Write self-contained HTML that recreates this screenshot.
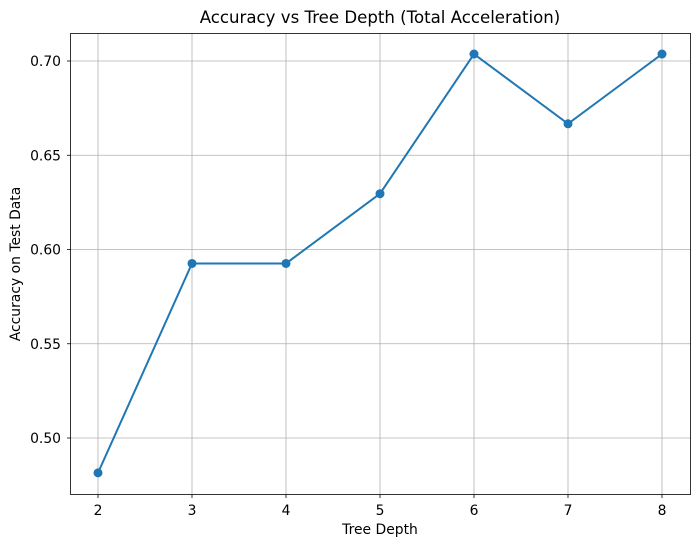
<!DOCTYPE html>
<html><head><meta charset="utf-8"><style>
body{margin:0;background:#fff;font-family:"Liberation Sans","DejaVu Sans",sans-serif}
</style></head><body>
<svg id="chart" width="700" height="547" xmlns="http://www.w3.org/2000/svg" font-family="DejaVu Sans, Liberation Sans, sans-serif">
<rect width="700" height="547" fill="#fff"/>
<g id="grid"></g>
<g id="ticks"></g>
<rect x="70.5" y="33.5" width="620" height="461" fill="none" stroke="#000" stroke-width="0.8"/>
<g id="series"></g>
<text x="380" y="23" font-size="16.6" text-anchor="middle">Accuracy vs Tree Depth (Total Acceleration)</text>
<text x="380" y="534" font-size="13.9" text-anchor="middle">Tree Depth</text>
<text transform="translate(20,264) rotate(-90)" font-size="13.9" text-anchor="middle">Accuracy on Test Data</text>
</svg>
<script>
const depths=[2,3,4,5,6,7,8];
const accuracy=[0.4815,0.5926,0.5926,0.6296,0.7037,0.6667,0.7037];
const yTicks=[0.50,0.55,0.60,0.65,0.70];
const yTickLabels=["0.50","0.55","0.60","0.65","0.70"];
const xTicks=[2,3,4,5,6,7,8];
const NS="http://www.w3.org/2000/svg";
const xs=v=>98+(v-2)*94;
const ys=v=>438-(v-0.5)*1885;
function mk(tag,attrs,parent){const e=document.createElementNS(NS,tag);for(const k in attrs)e.setAttribute(k,attrs[k]);document.getElementById(parent).appendChild(e);return e;}
xTicks.forEach(t=>{
  const x=xs(t);
  const g=mk('line',{x1:x,x2:x,y1:33.5,y2:494.5,stroke:'#b0b0b0','stroke-width':0.8},'grid');
  
  
  const tk=mk('line',{x1:x,x2:x,y1:494.5,y2:498,stroke:'#000','stroke-width':0.8},'ticks');
  
  
  const tx=mk('text',{x:x,y:515,'font-size':13.9,'text-anchor':'middle'},'ticks');
  tx.textContent=t;
  
  
});
yTicks.forEach((t,i)=>{
  const y=ys(t);
  const g=mk('line',{x1:70.5,x2:690.5,y1:y,y2:y,stroke:'#b0b0b0','stroke-width':0.8},'grid');
  
  
  const tk=mk('line',{x1:67,x2:70.5,y1:y,y2:y,stroke:'#000','stroke-width':0.8},'ticks');
  
  
  const tx=mk('text',{x:61,y:y+5,'font-size':13.9,'text-anchor':'end'},'ticks');
  tx.textContent=yTickLabels[i];
  
  
});
const pts=depths.map((d,i)=>xs(d)+','+ys(accuracy[i])).join(' ');
const pl=mk('polyline',{points:pts,fill:'none',stroke:'#1f77b4','stroke-width':2},'series');


depths.forEach((d,i)=>{
  const c=mk('circle',{cx:xs(d),cy:ys(accuracy[i]),r:4.5,fill:'#1f77b4'},'series');
  
  
});
</script>
</body></html>
